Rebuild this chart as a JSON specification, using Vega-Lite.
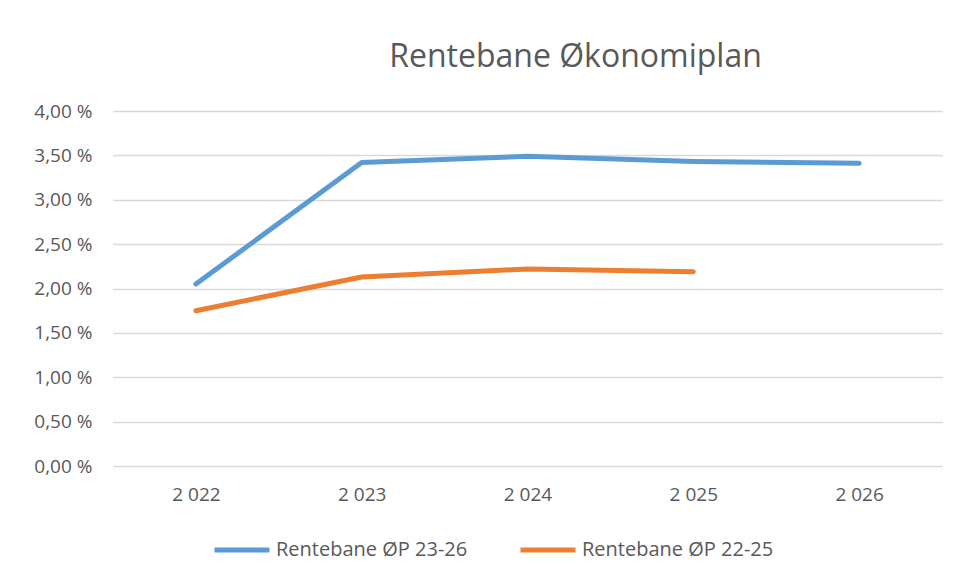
{
  "$schema": "https://vega.github.io/schema/vega-lite/v6.json",
  "width": 829,
  "height": 355,
  "autosize": {"type": "none"},
  "padding": {"left": 113, "top": 111, "right": 18, "bottom": 116},
  "background": "white",
  "config": {
    "locale": {"number": {"decimal": ",", "thousands": "\u00a0", "grouping": [3], "currency": ["", "\u00a0kr"], "percent": "\u00a0%"}},
    "view": {"stroke": null},
    "font": "Open Sans"
  },
  "title": {"text": "Rentebane Økonomiplan", "fontSize": 32, "fontWeight": "normal", "color": "#595959", "anchor": "middle", "dx": 48, "offset": 28, "font": "Open Sans"},
  "data": {"values": [
    {"year": 2022, "rate": 0.0205, "series": "Rentebane ØP 23-26"},
    {"year": 2023, "rate": 0.0342, "series": "Rentebane ØP 23-26"},
    {"year": 2024, "rate": 0.0349, "series": "Rentebane ØP 23-26"},
    {"year": 2025, "rate": 0.0343, "series": "Rentebane ØP 23-26"},
    {"year": 2026, "rate": 0.0341, "series": "Rentebane ØP 23-26"},
    {"year": 2022, "rate": 0.0175, "series": "Rentebane ØP 22-25"},
    {"year": 2023, "rate": 0.0213, "series": "Rentebane ØP 22-25"},
    {"year": 2024, "rate": 0.0222, "series": "Rentebane ØP 22-25"},
    {"year": 2025, "rate": 0.0219, "series": "Rentebane ØP 22-25"}
  ]},
  "mark": {"type": "line", "strokeWidth": 5, "strokeCap": "round", "strokeJoin": "round"},
  "encoding": {
    "x": {"field": "year", "type": "ordinal", "title": null,
      "axis": {"format": ",d", "formatType": "number", "labelAngle": 0, "domain": false, "ticks": false, "grid": false, "labelPadding": 19, "labelFontSize": 19, "labelColor": "#595959", "labelFont": "Open Sans"}},
    "y": {"field": "rate", "type": "quantitative", "title": null,
      "scale": {"domain": [0, 0.04]},
      "axis": {"values": [0, 0.005, 0.01, 0.015, 0.02, 0.025, 0.03, 0.035, 0.04], "format": ".2%", "domain": false, "ticks": false, "labelPadding": 21, "labelFontSize": 19, "labelColor": "#595959", "labelFont": "Open Sans", "gridColor": "#D9D9D9", "gridWidth": 1.5}},
    "color": {"field": "series", "type": "nominal",
      "scale": {"domain": ["Rentebane ØP 23-26", "Rentebane ØP 22-25"], "range": ["#5B9BD5", "#ED7D31"]},
      "legend": {"title": null, "orient": "none", "legendX": 99, "legendY": 409, "direction": "horizontal", "symbolType": "stroke", "symbolSize": 3025, "symbolStrokeWidth": 5, "labelFontSize": 20, "labelColor": "#595959", "labelFont": "Open Sans", "columnPadding": 42, "labelOffset": 4, "labelLimit": 300}}
  }
}
